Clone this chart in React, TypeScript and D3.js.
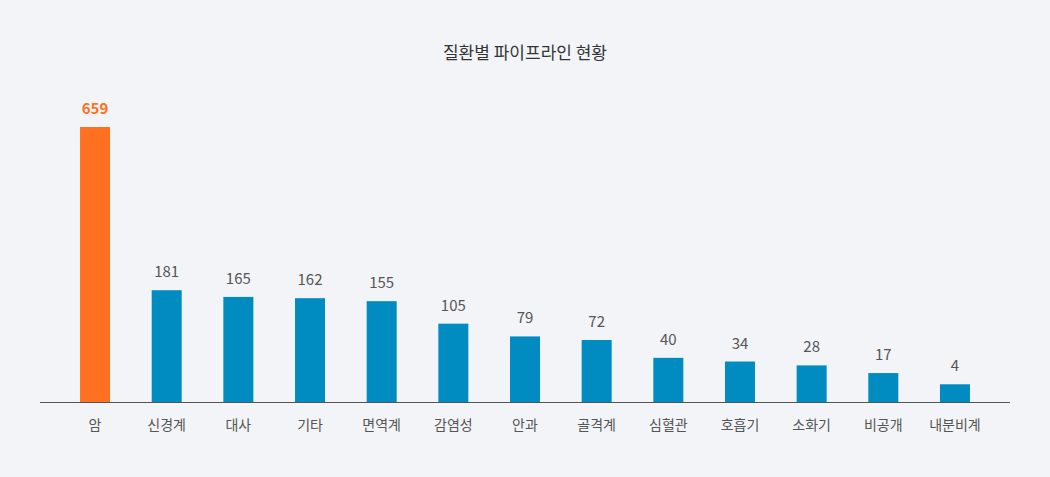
import { useEffect, useRef } from 'react'
import * as d3 from 'd3'

const categories = ['암', '신경계', '대사', '기타', '면역계', '감염성', '안과', '골격계', '심혈관', '호흡기', '소화기', '비공개', '내분비계']
const pipelineCounts = [659, 181, 165, 162, 155, 105, 79, 72, 40, 34, 28, 17, 4]
const title = '질환별 파이프라인 현황'

const WIDTH = 1050
const HEIGHT = 477
const FONT = '"Noto Sans CJK KR", "Noto Sans", sans-serif'

export default function App() {
  const svgRef = useRef<SVGSVGElement>(null)

  useEffect(() => {
    document.body.style.margin = '0'
    if (!svgRef.current) return

    const svg = d3.select(svgRef.current)
    svg.selectAll('*').remove()

    const baseline = 402
    const maxTop = 127
    const minBar = 12

    svg.append('rect')
      .attr('width', WIDTH)
      .attr('height', HEIGHT)
      .attr('fill', '#f3f4f8')

    svg.append('text')
      .attr('x', 525)
      .attr('y', 59)
      .attr('text-anchor', 'middle')
      .style('font-family', FONT)
      .style('font-size', '17px')
      .style('fill', '#333')
      .text(title)

    const x = d3.scaleBand<string>()
      .domain(categories)
      .range([59.2, 990.8])

    // bars are drawn on a compressed scale, not proportional
    const y = d3.scalePow()
      .exponent(0.75)
      .domain([0, d3.max(pipelineCounts) || 1])
      .range([baseline - minBar, maxTop])

    const barWidth = 30
    const rows = categories.map((c, i) => ({ name: c, value: pipelineCounts[i], first: i === 0 }))

    const g = svg.append('g')

    g.selectAll('rect.bar')
      .data(rows)
      .enter()
      .append('rect')
      .attr('class', 'bar')
      .attr('x', d => (x(d.name) || 0) + x.bandwidth() / 2 - barWidth / 2)
      .attr('y', d => y(d.value))
      .attr('width', barWidth)
      .attr('height', d => baseline - y(d.value))
      .attr('fill', d => (d.first ? '#ff7120' : '#008bc1'))

    g.selectAll('text.value')
      .data(rows)
      .enter()
      .append('text')
      .attr('class', 'value')
      .attr('x', d => (x(d.name) || 0) + x.bandwidth() / 2)
      .attr('y', d => y(d.value) - 13)
      .attr('text-anchor', 'middle')
      .style('font-family', FONT)
      .style('font-size', '15px')
      .style('font-weight', d => (d.first ? 'bold' : 'normal'))
      .style('fill', d => (d.first ? '#ff7120' : '#555'))
      .text(d => d.value)

    svg.append('line')
      .attr('x1', 40)
      .attr('x2', 1010)
      .attr('y1', baseline + 0.5)
      .attr('y2', baseline + 0.5)
      .attr('stroke', '#555')
      .attr('stroke-width', 1)

    g.selectAll('text.label')
      .data(rows)
      .enter()
      .append('text')
      .attr('class', 'label')
      .attr('x', d => (x(d.name) || 0) + x.bandwidth() / 2)
      .attr('y', 430)
      .attr('text-anchor', 'middle')
      .style('font-family', FONT)
      .style('font-size', '14px')
      .style('fill', '#555')
      .text(d => d.name)
  }, [])

  return <svg ref={svgRef} width={WIDTH} height={HEIGHT} style={{ display: 'block' }} />
}
